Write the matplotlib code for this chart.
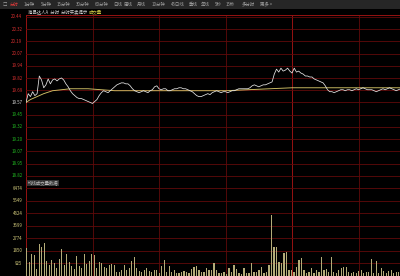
import numpy as np
import matplotlib
matplotlib.use("Agg")
import matplotlib.pyplot as plt
from matplotlib.patches import Rectangle

plt.rcParams["font.family"] = ["Noto Sans CJK SC", "DejaVu Sans"]

# ---- data ----
prev_close = 19.57
price_step = 0.1246

price = [
    19.57, 19.66, 19.63, 19.68, 19.64, 19.66, 19.84, 19.80, 19.72, 19.75,
    19.81, 19.76, 19.80, 19.81, 19.79, 19.81, 19.82, 19.80, 19.76, 19.73,
    19.69, 19.66, 19.64, 19.62, 19.61, 19.61, 19.60, 19.59, 19.58, 19.57,
    19.56, 19.58, 19.60, 19.64, 19.67, 19.69, 19.68, 19.67, 19.69, 19.71,
    19.73, 19.75, 19.76, 19.77, 19.77, 19.76, 19.76, 19.74, 19.71, 19.69,
    19.68, 19.67, 19.68, 19.69, 19.68, 19.67, 19.69, 19.70, 19.73, 19.74,
    19.71, 19.70, 19.71, 19.71, 19.69, 19.69, 19.70, 19.71, 19.71, 19.72,
    19.72, 19.71, 19.71, 19.70, 19.69, 19.68, 19.66, 19.64, 19.63, 19.63,
    19.64, 19.65, 19.66, 19.65, 19.67, 19.68, 19.69, 19.68, 19.67, 19.68,
    19.68, 19.67, 19.68, 19.69, 19.69, 19.70, 19.71, 19.71, 19.71, 19.71,
    19.71, 19.72, 19.74, 19.75, 19.74, 19.73, 19.74, 19.75, 19.75, 19.76,
    19.77, 19.78, 19.86, 19.91, 19.88, 19.92, 19.89, 19.90, 19.92, 19.89,
    19.87, 19.92, 19.88, 19.89, 19.87, 19.86, 19.84, 19.84, 19.83, 19.83,
    19.81, 19.80, 19.79, 19.78, 19.77, 19.74, 19.70, 19.68, 19.68, 19.67,
    19.68, 19.69, 19.70, 19.70, 19.69, 19.70, 19.70, 19.69, 19.70, 19.71,
    19.70, 19.71, 19.72, 19.71, 19.70, 19.70, 19.70, 19.69, 19.68, 19.69,
    19.70, 19.71, 19.70, 19.71, 19.72, 19.71, 19.70, 19.69, 19.70, 19.71,
]

avg_minutes = [0, 2, 5, 8, 12, 16, 20, 28, 34, 40, 60, 90, 100, 110, 120, 140, 169]
avg_price = [19.57, 19.60, 19.63, 19.66, 19.69, 19.70, 19.71, 19.71, 19.70,
             19.69, 19.69, 19.69, 19.70, 19.71, 19.72, 19.72, 19.72]

volume = [
    2060, 1030, 1620, 1550, 500, 2350, 2140, 2430, 1100, 810,
    1180, 960, 590, 1250, 1990, 810, 1620, 1030, 740, 515,
    1470, 740, 590, 1620, 880, 1100, 1620, 1550, 590, 1030,
    960, 660, 590, 810, 880, 810, 290, 290, 440, 810,
    440, 590, 1100, 1400, 590, 370, 290, 440, 590, 370,
    290, 440, 440, 220, 740, 1180, 290, 740, 290, 440,
    200, 220, 290, 370, 290, 220, 500, 660, 740, 440,
    290, 290, 590, 440, 440, 960, 440, 220, 220, 290,
    150, 590, 290, 810, 515, 220, 150, 590, 220, 220,
    960, 290, 290, 440, 660, 220, 290, 810, 4490, 2140,
    2140, 1030, 960, 1690, 1770, 440, 440, 290, 660, 1180,
    1325, 440, 220, 290, 590, 220, 440, 290, 1400, 440,
    515, 290, 1400, 290, 220, 440, 590, 660, 660, 290,
    220, 290, 200, 370, 440, 220, 290, 290, 1250, 220,
    1100, 200, 590, 370, 220, 370, 440, 220, 290, 290,
]

vol_ticks = [925, 1850, 2774, 3699, 4624, 5549, 6474]

toolbar = [("□", 3), ("分时", 10), ("1分钟", 24), ("5分钟", 41), ("15分钟", 57),
           ("30分钟", 76), ("60分钟", 95), ("日线", 113), ("周线", 124),
           ("月线", 137), ("10分钟", 152), ("45日线", 171), ("季线", 189),
           ("年线", 201), ("5秒", 215), ("15秒", 226), ("多分时", 242), ("更多 >", 260)]

# ---- figure ----
W, H = 400, 276
fig = plt.figure(figsize=(W / 100, H / 100), dpi=100, facecolor="black")

grid_c = "#600a0a"
mid_c = "#961212"
n_min = 168.7
fs = 3.2

def fy(py):
    return 1 - py / H

ax = fig.add_axes([26 / W, fy(188), 374 / W, fy(15) - fy(188)], facecolor="black")
axv = fig.add_axes([26 / W, 0, 374 / W, fy(188)], facecolor="black")

for a in (ax, axv):
    a.set_xlim(0, n_min)
    for s in a.spines.values():
        s.set_visible(False)
    a.set_xticks([])
    a.set_yticks([])
    for m in (30, 60, 90, 150):
        a.axvline(m, color=grid_c, lw=0.6, zorder=1)
    a.axvline(120, color=mid_c, lw=0.7, zorder=1)
    a.axvline(0.1, color=mid_c, lw=0.7, zorder=1)

levels = [prev_close + k * price_step for k in range(-6, 8)]
ax.set_ylim(prev_close - 7 * price_step, prev_close + 7 * price_step + 0.02)
for k, lv in zip(range(-6, 8), levels):
    ax.axhline(lv, color=grid_c, lw=0.6, zorder=1)
    col = "#dddddd" if k == 0 else ("#d83030" if k > 0 else "#22b822")
    ax.text(-1.6, lv, f"{lv:.2f}", color=col, fontsize=fs, ha="right", va="center",
            clip_on=False)
ax.axhline(prev_close + 7 * price_step + 0.02, color=mid_c, lw=0.7)

ax.plot(np.arange(len(price)), price, color="#e6e6e6", lw=0.55, zorder=3)
ax.plot(avg_minutes, avg_price, color="#d2c266", lw=0.65, zorder=2)

axv.set_ylim(0, 6474)
for v in vol_ticks:
    axv.axhline(v, color=grid_c, lw=0.6, zorder=1)
    axv.text(-1.6, v, str(v), color="#cfc77a", fontsize=fs, ha="right", va="center",
             clip_on=False)
xs = np.linspace(0.3, n_min - 0.5, len(volume))
axv.bar(xs, volume, width=0.5, color="#b3ab78", zorder=3)

# toolbar
fig.patches.append(Rectangle((0, fy(8.5)), 1, 1 - fy(8.5), transform=fig.transFigure,
                             facecolor="#262626", zorder=0))
for label, x in toolbar:
    c = "#e03a3a" if label == "分时" else "#a0a0a0"
    fig.text(x / W, fy(4.3), label, color=c, fontsize=fs, va="center", ha="left")

fig.text(28 / W, fy(11.5), "海昌达人A  分时  分时买卖提示", color="#d0d0d0", fontsize=fs,
         va="center")
fig.text(89 / W, fy(11.5), "成交量", color="#c8c040", fontsize=fs, va="center")
fig.text(28 / W, fy(183), "均线成交量数据", color="#b8b8b8", fontsize=fs, va="center",
         bbox=dict(boxstyle="square,pad=0.15", facecolor="#333333", edgecolor="none"))

fig.savefig("out.png", dpi=100, facecolor="black")
